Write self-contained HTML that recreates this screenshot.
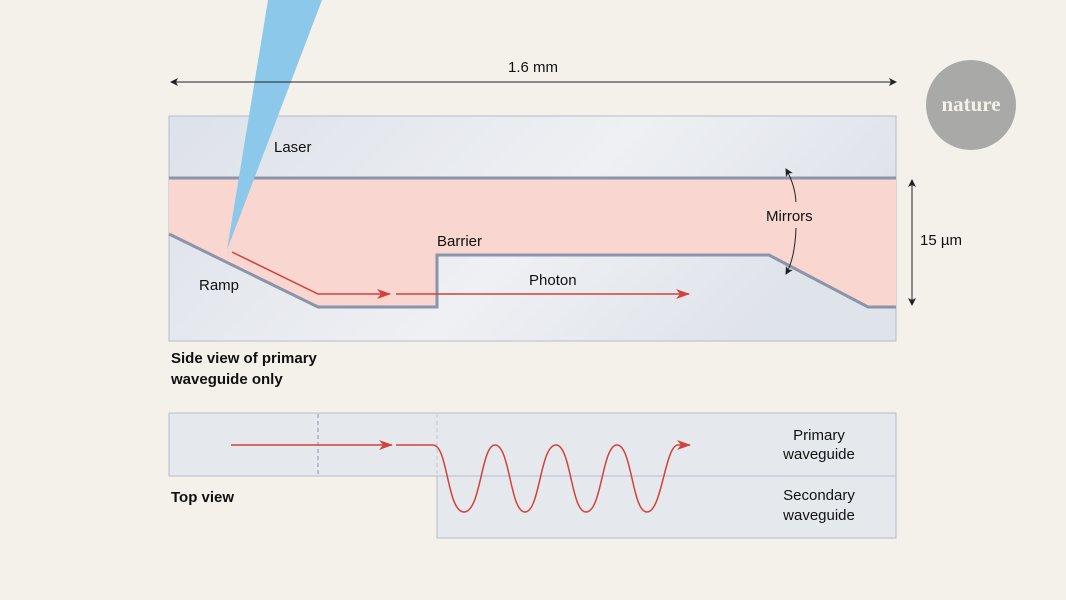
<!DOCTYPE html>
<html><head><meta charset="utf-8"><style>
html,body{margin:0;padding:0;background:#f4f1ea;}
svg{display:block;font-family:"Liberation Sans",sans-serif;}
</style></head><body>
<svg width="1066" height="600" viewBox="0 0 1066 600" xmlns="http://www.w3.org/2000/svg">
<defs>
<linearGradient id="g" x1="0" y1="0" x2="1" y2="0.3">
<stop offset="0" stop-color="#dde1e9"/><stop offset="0.6" stop-color="#eef0f3"/><stop offset="1" stop-color="#dfe3ea"/>
</linearGradient>
<marker id="ra" markerWidth="14" markerHeight="10" refX="13" refY="5" orient="auto" markerUnits="userSpaceOnUse"><path d="M0,0 L14,5 L0,10 L4,5 Z" fill="#d2423a"/></marker>
<marker id="ka" markerWidth="8" markerHeight="8" refX="7" refY="4" orient="auto" markerUnits="userSpaceOnUse"><path d="M0,0 L8,4 L0,8 L2,4 Z" fill="#222"/></marker>
<marker id="kb" markerWidth="8" markerHeight="8" refX="1" refY="4" orient="auto" markerUnits="userSpaceOnUse"><path d="M8,0 L0,4 L8,8 L6,4 Z" fill="#222"/></marker>
</defs>
<rect x="169" y="116" width="727" height="225" fill="url(#g)" stroke="#b5bccb" stroke-width="1"/>
<path d="M169,179 H896 V307 H868 L769,255 H437 V307 H318 L169,234 Z" fill="#f9d6d0"/>
<line x1="169" y1="178" x2="896" y2="178" stroke="#8a94ab" stroke-width="3"/>
<path d="M169,234 L318,307 H437 V255 H769 L868,307 H896" fill="none" stroke="#8a94ab" stroke-width="3"/>
<polygon points="268,0 322,0 227,250" fill="#8cc8ea"/>
<path d="M232,252 L318,294 H390" fill="none" stroke="#d2423a" stroke-width="1.5" marker-end="url(#ra)"/>
<path d="M396,294 H689" fill="none" stroke="#d2423a" stroke-width="1.5" marker-end="url(#ra)"/>
<text x="274" y="152" font-size="15" fill="#111">Laser</text>
<text x="199" y="290" font-size="15" fill="#111">Ramp</text>
<text x="437" y="246" font-size="15" fill="#111">Barrier</text>
<text x="529" y="285" font-size="15" fill="#111">Photon</text>
<text x="766" y="221" font-size="15" fill="#111">Mirrors</text>
<path d="M796,202 Q795,185 786,169" fill="none" stroke="#222" stroke-width="1" marker-end="url(#ka)"/>
<path d="M796,228 Q795,258 786,274" fill="none" stroke="#222" stroke-width="1" marker-end="url(#ka)"/>
<line x1="171" y1="82" x2="896" y2="82" stroke="#222" stroke-width="1" marker-start="url(#kb)" marker-end="url(#ka)"/>
<text x="533" y="72" font-size="15" text-anchor="middle" fill="#111">1.6 mm</text>
<line x1="912" y1="180" x2="912" y2="305" stroke="#222" stroke-width="1" marker-start="url(#kb)" marker-end="url(#ka)"/>
<text x="920" y="245" font-size="15" fill="#111">15 µm</text>
<circle cx="971" cy="105" r="45" fill="#a9aaa8"/>
<text x="971" y="111" font-size="21" font-weight="bold" text-anchor="middle" fill="#f4f1ea" font-family="Liberation Serif,serif">nature</text>
<text x="171" y="363" font-size="15" font-weight="bold" fill="#111">Side view of primary</text>
<text x="171" y="384" font-size="15" font-weight="bold" fill="#111">waveguide only</text>
<rect x="169" y="413" width="727" height="63" fill="#e5e8ed" stroke="#b5bccb" stroke-width="1"/>
<rect x="437" y="476" width="459" height="62" fill="#e5e8ed" stroke="#b5bccb" stroke-width="1"/>
<line x1="318" y1="414" x2="318" y2="476" stroke="#8a94ab" stroke-width="1" stroke-dasharray="4,3"/>
<line x1="437" y1="414" x2="437" y2="476" stroke="#c2c8d4" stroke-width="1" stroke-dasharray="4,3"/>
<path d="M231,445 H392" fill="none" stroke="#d2423a" stroke-width="1.5" marker-end="url(#ra)"/>
<path d="M396,445 H433 C448,445 447,512 464,512 C481,512 481,445 495,445 C510,445 510,512 525,512 C540,512 540,445 556,445 C571,445 571,512 586,512 C602,512 602,445 617,445 C632,445 632,512 647,512 C662,512 665,445 678,445 L690,445" fill="none" stroke="#d2423a" stroke-width="1.5" marker-end="url(#ra)"/>
<text x="819" y="440" font-size="15" text-anchor="middle" fill="#111">Primary</text>
<text x="819" y="459" font-size="15" text-anchor="middle" fill="#111">waveguide</text>
<text x="819" y="500" font-size="15" text-anchor="middle" fill="#111">Secondary</text>
<text x="819" y="520" font-size="15" text-anchor="middle" fill="#111">waveguide</text>
<text x="171" y="502" font-size="15" font-weight="bold" fill="#111">Top view</text>
</svg>
</body></html>
